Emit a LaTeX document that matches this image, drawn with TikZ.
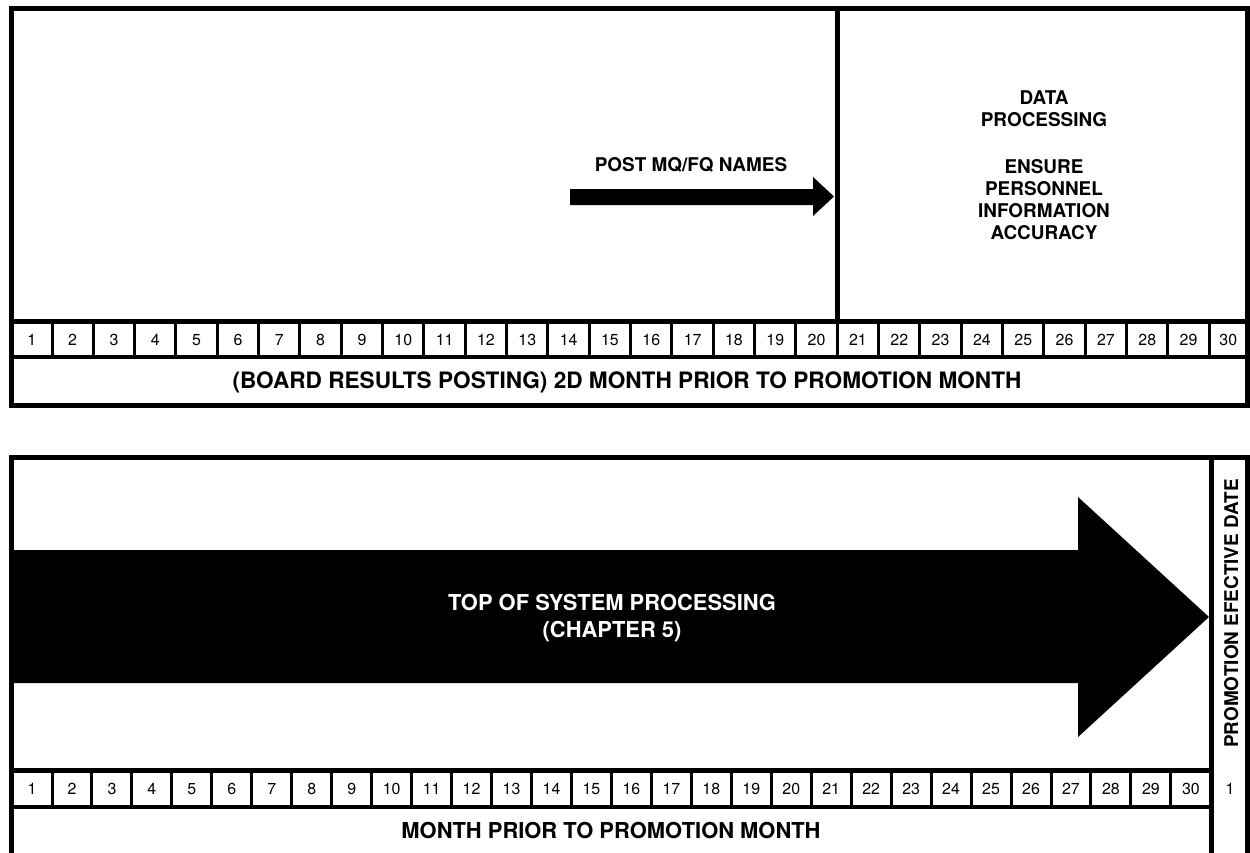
\documentclass[tikz,border=0pt]{standalone}
\usepackage{fontspec}
\setmainfont{TeX Gyre Heros}
\begin{document}
\begin{tikzpicture}[x=1bp,y=-1bp,
  lbl/.style={font=\fontsize{19}{22}\selectfont\bfseries, anchor=base, inner sep=0pt},
  biglbl/.style={font=\fontsize{22}{26}\selectfont\bfseries, anchor=base, inner sep=0pt},
  wlbl/.style={biglbl, text=white},
  num/.style={font=\fontsize{16}{18}\selectfont, anchor=base, inner sep=0pt},
  frame/.style={line width=5bp},
  rowline/.style={line width=4.5bp},
  cellline/.style={line width=3bp},
  block/.style={fill=black}]
\useasboundingbox (0,0) rectangle (1250,853);
\fill[white] (0,0) rectangle (1250,853);

% ---------------- top panel ----------------
\draw[frame] (11.5,8) rectangle (1247,405);
\draw[rowline] (11.5,321.5) -- (1247,321.5);
\draw[rowline] (11.5,357) -- (1247,357);
\draw[frame] (837.3,8) -- (837.3,321.5);
\foreach \i in {1,...,29}
  \draw[cellline] ({10.67+\i*41.33},321.5) -- ({10.67+\i*41.33},357);
\node[num] (t1) at (31.75,345) {1};
\foreach \i in {2,...,29}
  \node[num] (t\i) at ({10.67+(\i-0.5)*41.33},345) {\i};
\node[num] (t30) at (1228.3,345) {30};

% small arrow
\fill[block] (570,189) -- (813,189) -- (813,177) -- (834,196.5) -- (813,216) -- (813,205) -- (570,205) -- cycle;
\node[lbl] (post) at (691,171) {POST MQ/FQ NAMES};

\node[lbl] (dp1) at (1044,104) {DATA};
\node[lbl] (dp2) at (1044,126) {PROCESSING};
\node[lbl] (en1) at (1044,173) {ENSURE};
\node[lbl] (en2) at (1044,195) {PERSONNEL};
\node[lbl] (en3) at (1044,217) {INFORMATION};
\node[lbl] (en4) at (1044,239) {ACCURACY};

\node[biglbl, font=\fontsize{22.7}{26}\selectfont\bfseries] (toplbl) at (627,388) {(BOARD RESULTS POSTING) 2D MONTH PRIOR TO PROMOTION MONTH};

% ---------------- bottom panel ----------------
\fill[block] (11.5,550) -- (1078,550) -- (1078,497) -- (1209,617) -- (1078,737) -- (1078,683) -- (11.5,683) -- cycle;
\draw[frame] (11.5,858) -- (11.5,457.5) -- (1247,457.5) -- (1247,858);
\draw[frame] (1211.5,457.5) -- (1211.5,858);
\draw[rowline] (11.5,770.5) -- (1211.5,770.5);
\draw[rowline] (11.5,807) -- (1211.5,807);
\foreach \i in {1,...,29}
  \draw[cellline] ({12.04+\i*39.96},770.5) -- ({12.04+\i*39.96},807);
\foreach \i in {1,...,30}
  \node[num] (b\i) at ({12.04+(\i-0.5)*39.96},794) {\i};
\node[num] (b31) at (1230,794) {1};

\node[wlbl] (tos1) at (612,610) {TOP OF SYSTEM PROCESSING};
\node[wlbl] (tos2) at (612,637) {(CHAPTER 5)};

\node[lbl, rotate=90] (ped) at (1238,613.5) {PROMOTION EFECTIVE DATE};

\node[biglbl] (botlbl) at (611,838) {MONTH PRIOR TO PROMOTION MONTH};
\end{tikzpicture}
\end{document}
